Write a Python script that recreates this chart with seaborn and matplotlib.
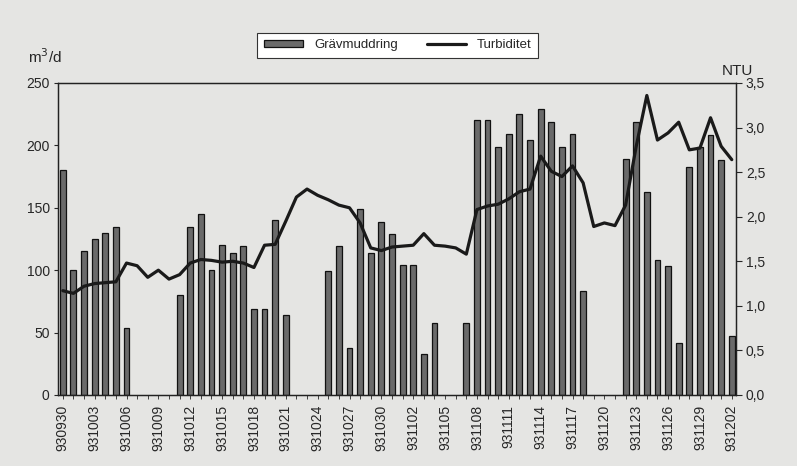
import numpy as np
import pandas as pd
import matplotlib.pyplot as plt
import seaborn as sns

# dagliga värden 930930 - 931202
dates = pd.date_range('1993-09-30', '1993-12-02').strftime('%y%m%d').tolist()

nan = np.nan
gravmuddring = [180, 100, 115, 125, 130, 135, 54, nan, nan, nan, nan,
                80, 135, 145, 100, 120, 114, 119, 69, 69, 140, 64,
                nan, nan, nan, 99, 119, 38, 149, 114, 139, 129, 104, 104, 33, 58,
                nan, nan, 58, 220, 220, 199, 209, 225, 204, 229, 219, 199, 209, 83,
                nan, nan, nan, 189, 219, 163, 108, 103, 42, 183, 199, 208, 188, 47]

turbiditet = [1.17, 1.14, 1.22, 1.25, 1.26, 1.27, 1.48, 1.45, 1.32, 1.40, 1.30,
              1.35, 1.48, 1.52, 1.51, 1.49, 1.50, 1.48, 1.43, 1.68, 1.69, 1.95,
              2.22, 2.31, 2.24, 2.19, 2.13, 2.10, 1.93, 1.65, 1.62, 1.66, 1.67, 1.68, 1.81, 1.68,
              1.67, 1.65, 1.58, 2.08, 2.12, 2.14, 2.20, 2.28, 2.31, 2.68, 2.51, 2.45, 2.57, 2.38,
              1.89, 1.93, 1.90, 2.13, 2.79, 3.36, 2.86, 2.94, 3.06, 2.75, 2.77, 3.11, 2.79, 2.64]

left_ticks = [0, 50, 100, 150, 200, 250]
right_ticks = [0.0, 0.5, 1.0, 1.5, 2.0, 2.5, 3.0, 3.5]

df = pd.DataFrame({'dag': np.arange(len(dates)), 'datum': dates,
                   'm3': gravmuddring, 'ntu': turbiditet})

sns.set_style('ticks')
plt.rcParams['font.family'] = ['Liberation Sans', 'DejaVu Sans']
bg = '#e5e5e3'

fig = plt.figure(figsize=(7.97, 4.66), dpi=100, facecolor=bg)
ax = fig.add_axes([0.0728, 0.1524, 0.8507, 0.6695], facecolor=bg)

sns.barplot(data=df, x='dag', y='m3', native_scale=True, width=0.55,
            color='#6a6a6a', edgecolor='#111111', linewidth=0.9,
            saturation=1, ax=ax, label='Grävmuddring')
ax.set_ylim(0, 250)
ax.set_xlim(-0.45, len(dates) - 1 + 0.4)
ax.set_yticks(left_ticks)
ax.set_xticks(df['dag'])
ax.set_xticklabels([d if i % 3 == 0 else '' for i, d in enumerate(dates)],
                   rotation=90, fontsize=10)
ax.tick_params(axis='y', labelsize=10, length=3, width=0.8, pad=3)
ax.tick_params(axis='x', length=3, width=0.6, pad=4)
ax.set_xlabel('')
ax.set_ylabel('')

ax2 = ax.twinx()
sns.lineplot(data=df, x='dag', y='ntu', color='#1a1a1a', linewidth=2.3,
             ax=ax2, label='Turbiditet', legend=False)
for ln in ax2.lines:
    ln.set_solid_joinstyle('round')
ax2.set_ylim(0, 3.5)
ax2.set_yticks(right_ticks)
ax2.set_yticklabels([f'{v:.1f}'.replace('.', ',') for v in right_ticks])
ax2.tick_params(axis='y', labelsize=10, length=4, width=0.8, pad=3)
ax2.set_ylabel('')

for a in (ax, ax2):
    for s in a.spines.values():
        s.set_visible(True)
        s.set_linewidth(0.9)
        s.set_color('#222222')

h1, l1 = ax.get_legend_handles_labels()
h2, l2 = ax2.get_legend_handles_labels()
if ax.get_legend():
    ax.get_legend().remove()
leg = fig.legend(h1 + h2, l1 + l2, loc='center', bbox_to_anchor=(0.499, 0.903),
                 ncol=2, fontsize=9.5, frameon=True, fancybox=False,
                 edgecolor='#333333', facecolor='white', framealpha=1,
                 handlelength=3.0, handleheight=0.35, columnspacing=2.2,
                 borderpad=0.5)
leg.get_frame().set_linewidth(0.8)

fig.text(0.056, 0.878, 'm$^3$/d', ha='center', va='center', fontsize=11)
fig.text(0.925, 0.848, 'NTU', ha='center', va='center', fontsize=11)

fig.savefig('out.png', dpi=100, facecolor=bg)
